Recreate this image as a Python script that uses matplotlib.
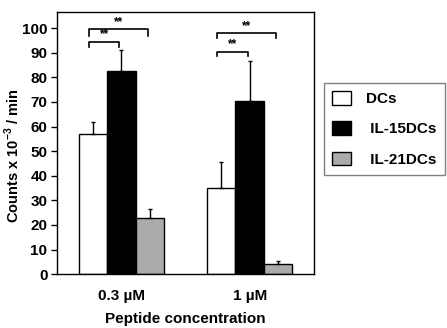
import numpy as np
import matplotlib
matplotlib.use('Agg')
import matplotlib.pyplot as plt

plt.rcParams['font.family'] = ['Liberation Sans', 'DejaVu Sans']
plt.rcParams['font.weight'] = 'bold'
plt.rcParams['mathtext.fontset'] = 'custom'
plt.rcParams['mathtext.rm'] = 'Liberation Sans:bold'
plt.rcParams['mathtext.bf'] = 'Liberation Sans:bold'

# data
groups = ['0.3 \u00b5M', '1 \u00b5M']
series = ['DCs', ' IL-15DCs', ' IL-21DCs']
colors = ['white', 'black', '#aaaaaa']
means = [[57, 35],
         [82.5, 70.5],
         [23, 4]]
errs = [[5, 10.5],
        [8.5, 16],
        [3.5, 1.5]]

# significance brackets: (group, bar_from, bar_to, height, leg)
brackets = [(0, 0, 1, 94.5, 2), (0, 0, 2, 99.5, 2.5),
            (1, 0, 1, 90.5, 2), (1, 0, 2, 98, 2)]

fig = plt.figure(figsize=(4.47, 3.28), dpi=100)
ax = fig.add_axes([0.128, 0.164, 0.574, 0.799])

x = np.arange(len(groups))
w = 0.222
for i in range(len(series)):
    pos = x + (i - 1) * w
    ax.bar(pos, means[i], w, color=colors[i], edgecolor='black', linewidth=1,
           label=series[i], zorder=2)
    ax.errorbar(pos, means[i], yerr=[np.zeros(len(groups)), errs[i]],
                fmt='none', ecolor='black', elinewidth=1, capsize=1.5,
                capthick=1, zorder=3)

for g, a, b, h, leg in brackets:
    x0 = x[g] + (a - 1) * w - 0.03
    x1 = x[g] + (b - 1) * w - 0.015
    ax.plot([x0, x0, x1, x1], [h - leg, h, h, h - leg], color='black',
            linewidth=1.2)
    ax.text((x0 + x1) / 2, h + 0.5, '**', ha='center', va='bottom',
            fontsize=8.5, fontweight='bold')

ax.set_xlim(-0.5, 1.5)
ax.set_ylim(0, 106.5)
ax.set_yticks(range(0, 101, 10))
ax.set_xticks(x)
ax.set_xticklabels(groups, fontsize=11, fontweight='bold')
ax.tick_params(axis='x', length=0, pad=11)
ax.tick_params(axis='y', length=4, width=1, labelsize=11, direction='out',
               pad=3)
for lab in ax.get_yticklabels():
    lab.set_fontweight('bold')
for s in ax.spines.values():
    s.set_linewidth(1)
ax.set_xlabel('Peptide concentration', fontsize=11, fontweight='bold',
              labelpad=6)
ax.set_ylabel(r'Counts x 10$^{-3}$ / min', fontsize=10.5, fontweight='bold')
ax.yaxis.set_label_coords(-0.137, 0.45)

fig.legend(loc='upper left', bbox_to_anchor=(0.725, 0.748),
           frameon=True, fancybox=False, edgecolor='#808080', framealpha=1,
           handlelength=1.2, handleheight=1.0, handletextpad=1.0,
           labelspacing=1.0, borderpad=0.55, borderaxespad=0,
           prop={'weight': 'bold', 'size': 11})

fig.savefig('out.png', dpi=100)
